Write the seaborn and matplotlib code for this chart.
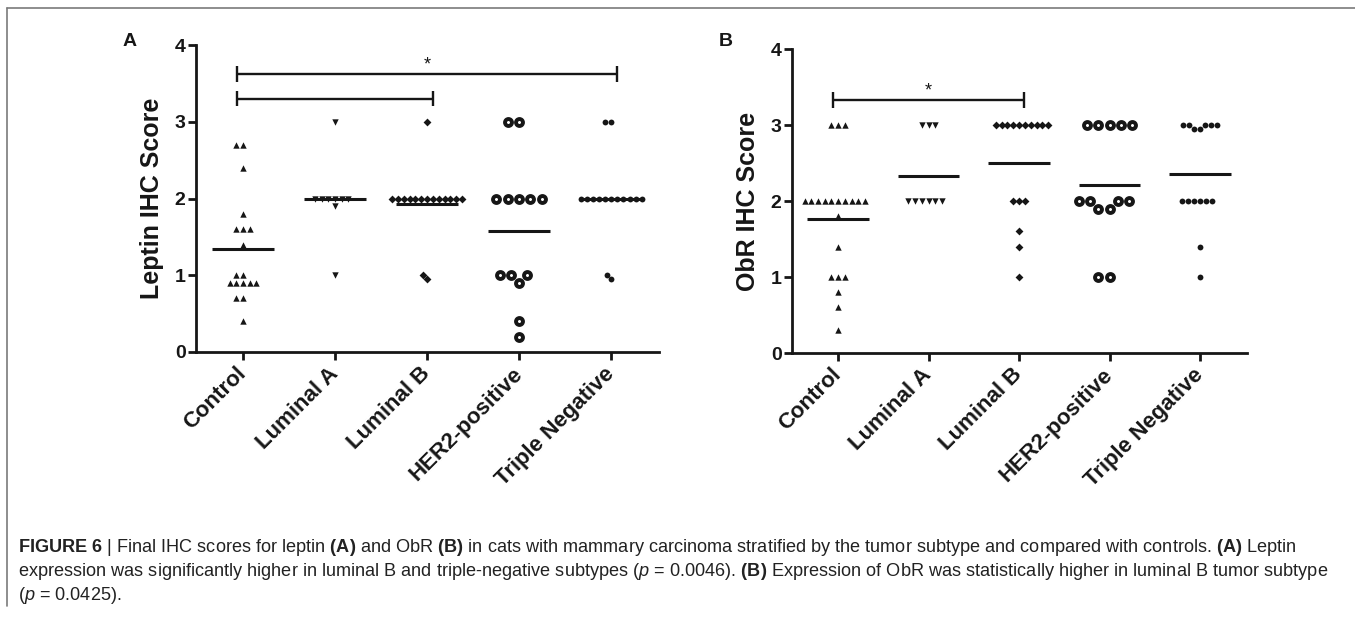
import warnings
import numpy as np
import pandas as pd
import matplotlib
matplotlib.use("Agg")
import matplotlib.pyplot as plt
from matplotlib import font_manager
from matplotlib.lines import Line2D
import seaborn as sns

warnings.filterwarnings("ignore")

groups = ["Control", "Luminal A", "Luminal B", "HER2-positive", "Triple Negative"]

# Panel A - leptin IHC score
leptin_control = [2.7, 2.7, 2.4, 1.8, 1.6, 1.6, 1.6, 1.4, 1.0, 1.0, 0.9, 0.9, 0.9, 0.9, 0.9, 0.7, 0.7, 0.4]
leptin_lum_a = [3.0, 2.0, 2.0, 2.0, 2.0, 2.0, 2.0, 1.9, 1.0]
leptin_lum_b = [3.0, 2.0, 2.0, 2.0, 2.0, 2.0, 2.0, 2.0, 2.0, 2.0, 2.0, 2.0, 2.0, 2.0, 1.0, 0.95]
leptin_her2 = [3.0, 3.0, 2.0, 2.0, 2.0, 2.0, 2.0, 1.0, 1.0, 1.0, 0.9, 0.4, 0.2]
leptin_tn = [3.0, 3.0, 2.0, 2.0, 2.0, 2.0, 2.0, 2.0, 2.0, 2.0, 2.0, 2.0, 2.0, 1.0, 0.95]

# Panel B - ObR IHC score
obr_control = [3.0, 3.0, 3.0, 2.0, 2.0, 2.0, 2.0, 2.0, 2.0, 2.0, 2.0, 2.0, 2.0, 1.8, 1.4, 1.0, 1.0, 1.0, 0.8, 0.6, 0.3]
obr_lum_a = [3.0, 3.0, 3.0, 2.0, 2.0, 2.0, 2.0, 2.0, 2.0]
obr_lum_b = [3.0, 3.0, 3.0, 3.0, 3.0, 3.0, 3.0, 3.0, 3.0, 3.0, 2.0, 2.0, 2.0, 1.6, 1.4, 1.0]
obr_her2 = [3.0, 3.0, 3.0, 3.0, 3.0, 2.0, 2.0, 2.0, 2.0, 1.9, 1.9, 1.0, 1.0]
obr_tn = [3.0, 3.0, 3.0, 3.0, 3.0, 2.95, 2.95, 2.0, 2.0, 2.0, 2.0, 2.0, 2.0, 1.4, 1.0]

leptin = [leptin_control, leptin_lum_a, leptin_lum_b, leptin_her2, leptin_tn]
obr = [obr_control, obr_lum_a, obr_lum_b, obr_her2, obr_tn]

# significance brackets: (from group, to group, height, label)
leptin_brackets = [("Control", "Triple Negative", 3.62, "*"), ("Control", "Luminal B", 3.30, "")]
obr_brackets = [("Control", "Luminal B", 3.33, "*")]

ink = "#161616"
marker_styles = {
    "Control": dict(marker="^", size=4.6, color=ink, linewidth=0),
    "Luminal A": dict(marker="v", size=4.6, color=ink, linewidth=0),
    "Luminal B": dict(marker="D", size=4.0, color=ink, linewidth=0),
    "HER2-positive": dict(marker="o", size=5.0, color="white", edgecolor=ink, linewidth=2.8),
    "Triple Negative": dict(marker="o", size=4.2, color=ink, linewidth=0),
}

sns.set_style("ticks")
plt.rcParams["font.family"] = ["Liberation Sans", "DejaVu Sans"]

names = {f.name for f in font_manager.fontManager.ttflist}
cap_font = "Liberation Sans Narrow" if "Liberation Sans Narrow" in names else "Liberation Sans"
plt.rcParams["mathtext.fontset"] = "custom"
plt.rcParams["mathtext.rm"] = cap_font
plt.rcParams["mathtext.bf"] = cap_font + ":bold"
plt.rcParams["mathtext.it"] = cap_font + ":italic"

W, H = 1355, 617
fig = plt.figure(figsize=(W / 100, H / 100), dpi=100)
ax_a = fig.add_axes([196 / W, 1 - 352 / H, 463 / W, 307 / H])
ax_b = fig.add_axes([792 / W, 1 - 353 / H, 455 / W, 304 / H])


def draw_panel(ax, values, ylabel, brackets):
    for g, vals in zip(groups, values):
        d = pd.DataFrame({"group": [g] * len(vals), "score": vals})
        sns.swarmplot(data=d, x="group", y="score", order=groups, ax=ax,
                      zorder=3, **marker_styles[g])
        i = groups.index(g)
        ax.hlines(np.mean(vals), i - 0.34, i + 0.34, color=ink, lw=2.2, zorder=4)

    for g0, g1, h, lab in brackets:
        x0 = groups.index(g0) - 0.06
        x1 = groups.index(g1) + 0.06
        ax.plot([x0, x1], [h, h], color=ink, lw=1.7, solid_capstyle="butt", clip_on=False)
        for xe in (x0, x1):
            ax.plot([xe, xe], [h - 0.1, h + 0.1], color=ink, lw=1.7, solid_capstyle="butt", clip_on=False)
        if lab:
            ax.text((x0 + x1) / 2, h + 0.01, lab, ha="center", va="bottom",
                    fontsize=13, color=ink)

    ax.set_xlim(-0.51, 4.52)
    ax.set_ylim(0, 4)
    ax.set_yticks([0, 1, 2, 3, 4])
    ax.set_xlabel("")
    ax.set_ylabel(ylabel, fontsize=18, fontweight="bold", color=ink, labelpad=8)
    sns.despine(ax=ax)
    for s in ("left", "bottom"):
        ax.spines[s].set_linewidth(2.0)
        ax.spines[s].set_color(ink)
    ax.tick_params(axis="both", length=6, width=2.0, color=ink, labelcolor=ink)
    ax.tick_params(axis="y", pad=1.5, labelsize=14)
    ax.tick_params(axis="x", pad=3, labelsize=16)
    for t in ax.get_yticklabels():
        t.set_fontweight("bold")
    ax.set_xticks(range(len(groups)))
    ax.set_xticklabels(groups, rotation=45, ha="right", va="center",
                       rotation_mode="anchor", fontweight="bold")
    for t in ax.get_xticklabels():
        t.set_y(-0.02)


draw_panel(ax_a, leptin, "Leptin IHC Score", leptin_brackets)
draw_panel(ax_b, obr, "ObR IHC Score", obr_brackets)

fig.text(130 / W, 1 - 42 / H, "A", fontsize=14, fontweight="bold", color=ink, ha="center", va="center")
fig.text(726 / W, 1 - 42 / H, "B", fontsize=14, fontweight="bold", color=ink, ha="center", va="center")

# frame lines of the figure
fig.add_artist(Line2D([7 / W, 1], [1 - 8 / H, 1 - 8 / H], transform=fig.transFigure, color="#7a7a7a", lw=1.2))
fig.add_artist(Line2D([7 / W, 7 / W], [1 - 8 / H, 1 - 606 / H], transform=fig.transFigure, color="#7a7a7a", lw=1.2))

# caption
cap_lines = [
    r"$\mathbf{FIGURE\ 6}$ | Final IHC scores for leptin $\mathbf{(A)}$ and ObR $\mathbf{(B)}$ in cats with mammary carcinoma stratified by the tumor subtype and compared with controls. $\mathbf{(A)}$ Leptin",
    r"expression was significantly higher in luminal B and triple-negative subtypes ($\mathit{p}$ = 0.0046). $\mathbf{(B)}$ Expression of ObR was statistically higher in luminal B tumor subtype",
    r"($\mathit{p}$ = 0.0425).",
]
cap_y = [548, 572, 596]

probe = fig.text(0, 0, cap_lines[0], fontsize=12, family=cap_font)
renderer = fig.canvas.get_renderer()
w = probe.get_window_extent(renderer).width
probe.remove()
cap_size = 12 * (1277 / w)

for line, y in zip(cap_lines, cap_y):
    fig.text(18 / W, 1 - y / H, line, fontsize=cap_size, family=cap_font,
             color="#222222", ha="left", va="center")

fig.savefig("out.png", dpi=100)
